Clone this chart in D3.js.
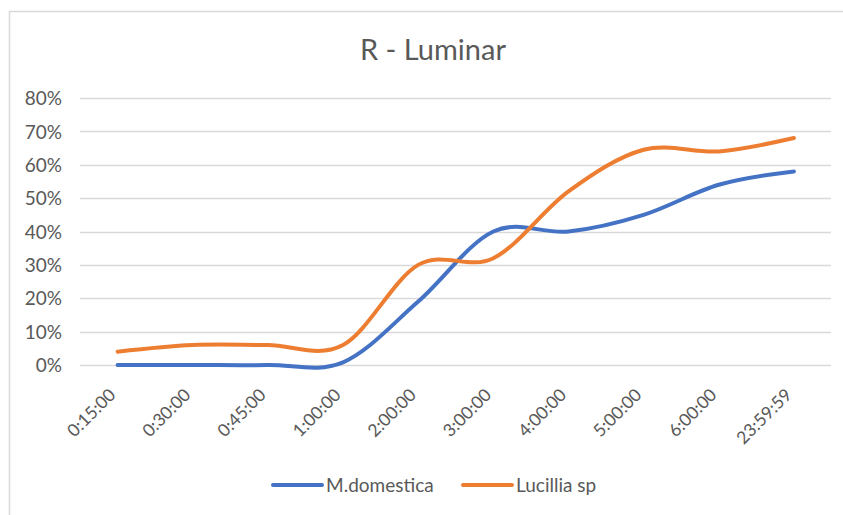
<!DOCTYPE html>
<html>
<head>
<meta charset="utf-8">
<script src="https://cdn.jsdelivr.net/npm/d3@7"></script>
<style>
  body { margin: 0; background: #fff; }
  text { font-family: Lato, "Noto Sans", sans-serif; fill: #595959; }
</style>
</head>
<body>
<script>
// data
var categories = ['0:15:00', '0:30:00', '0:45:00', '1:00:00', '2:00:00', '3:00:00', '4:00:00', '5:00:00', '6:00:00', '23:59:59']
var domestica = [0, 0, 0, 0.008, 0.19, 0.40, 0.40, 0.45, 0.54, 0.58]
var lucillia = [0.04, 0.06, 0.06, 0.06, 0.30, 0.32, 0.52, 0.645, 0.64, 0.68]
var yTicks = [0, 0.1, 0.2, 0.3, 0.4, 0.5, 0.6, 0.7, 0.8]
var seriesNames = ['M.domestica', 'Lucillia sp']
var colors = ['#4472C4', '#ED7D31']

var width = 843, height = 515
var margin = { left: 80, right: 12, top: 98, bottom: 150 }

var svg = d3.select('body').append('svg')
    .attr('width', width)
    .attr('height', height)

// chart border
svg.append('rect')
    .attr('x', 9.5).attr('y', 11.5)
    .attr('width', 900).attr('height', 600)
    .attr('fill', 'none')
    .attr('stroke', '#d9d9d9')
    .attr('stroke-width', 1.5)

var x = d3.scaleBand()
    .domain(categories)
    .range([margin.left, width - margin.right + 0.5])

var y = d3.scaleLinear()
    .domain([0, 0.8])
    .range([365, 98])

// gridlines
svg.append('g')
    .selectAll('line')
    .data(yTicks)
    .join('line')
    .attr('x1', margin.left)
    .attr('x2', width - margin.right)
    .attr('y1', function(d){ return Math.round(y(d)) + 0.5 })
    .attr('y2', function(d){ return Math.round(y(d)) + 0.5 })
    .attr('stroke', '#d9d9d9')
    .attr('stroke-width', 1.5)

// y axis labels
var yAxis = svg.append('g')
    .attr('transform', 'translate(' + (margin.left - 18) + ',0)')
    .call(d3.axisLeft(y).tickValues(yTicks).tickFormat(d3.format('.0%')).tickSize(0))
yAxis.select('.domain').remove()
yAxis.selectAll('text')
    .attr('x', 0)
    .attr('dy', '0.35em')
    .style('font-size', '19px')
    .style('fill', '#595959')

// x axis labels, rotated like excel
var xAxis = svg.append('g')
    .attr('transform', 'translate(0,365)')
    .call(d3.axisBottom(x).tickSize(0))
xAxis.select('.domain').remove()
xAxis.selectAll('text')
    .style('font-size', '17.5px')
    .style('fill', '#595959')
    .attr('text-anchor', 'end')
    .attr('x', 0).attr('y', 0).attr('dy', 0)
    .attr('transform', 'translate(-1,31) rotate(-45)')

// title
svg.append('text')
    .attr('x', 433)
    .attr('y', 60)
    .attr('text-anchor', 'middle')
    .style('font-size', '29px')
    .text('R - Luminar')

// lines
var line = d3.line()
    .x(function(d, i){ return x(categories[i]) + x.bandwidth() / 2 })
    .y(function(d){ return y(d) })
    .curve(d3.curveCardinal.tension(0))

var allSeries = [domestica, lucillia]
svg.append('g')
    .selectAll('path')
    .data(allSeries)
    .join('path')
    .attr('d', line)
    .attr('fill', 'none')
    .attr('stroke', function(d, i){ return colors[i] })
    .attr('stroke-width', 4)
    .attr('stroke-linecap', 'round')
    .attr('stroke-linejoin', 'round')

// legend
var legendX = [273, 463]
var legend = svg.append('g')
    .selectAll('g')
    .data(seriesNames)
    .join('g')
    .attr('transform', function(d, i){ return 'translate(' + legendX[i] + ',485)' })
legend.append('line')
    .attr('x1', 0).attr('x2', 49)
    .attr('stroke', function(d, i){ return colors[i] })
    .attr('stroke-width', 4)
    .attr('stroke-linecap', 'round')
legend.append('text')
    .attr('x', 53)
    .attr('dy', '0.35em')
    .style('font-size', '19px')
    .text(function(d){ return d })
</script>
</body>
</html>
